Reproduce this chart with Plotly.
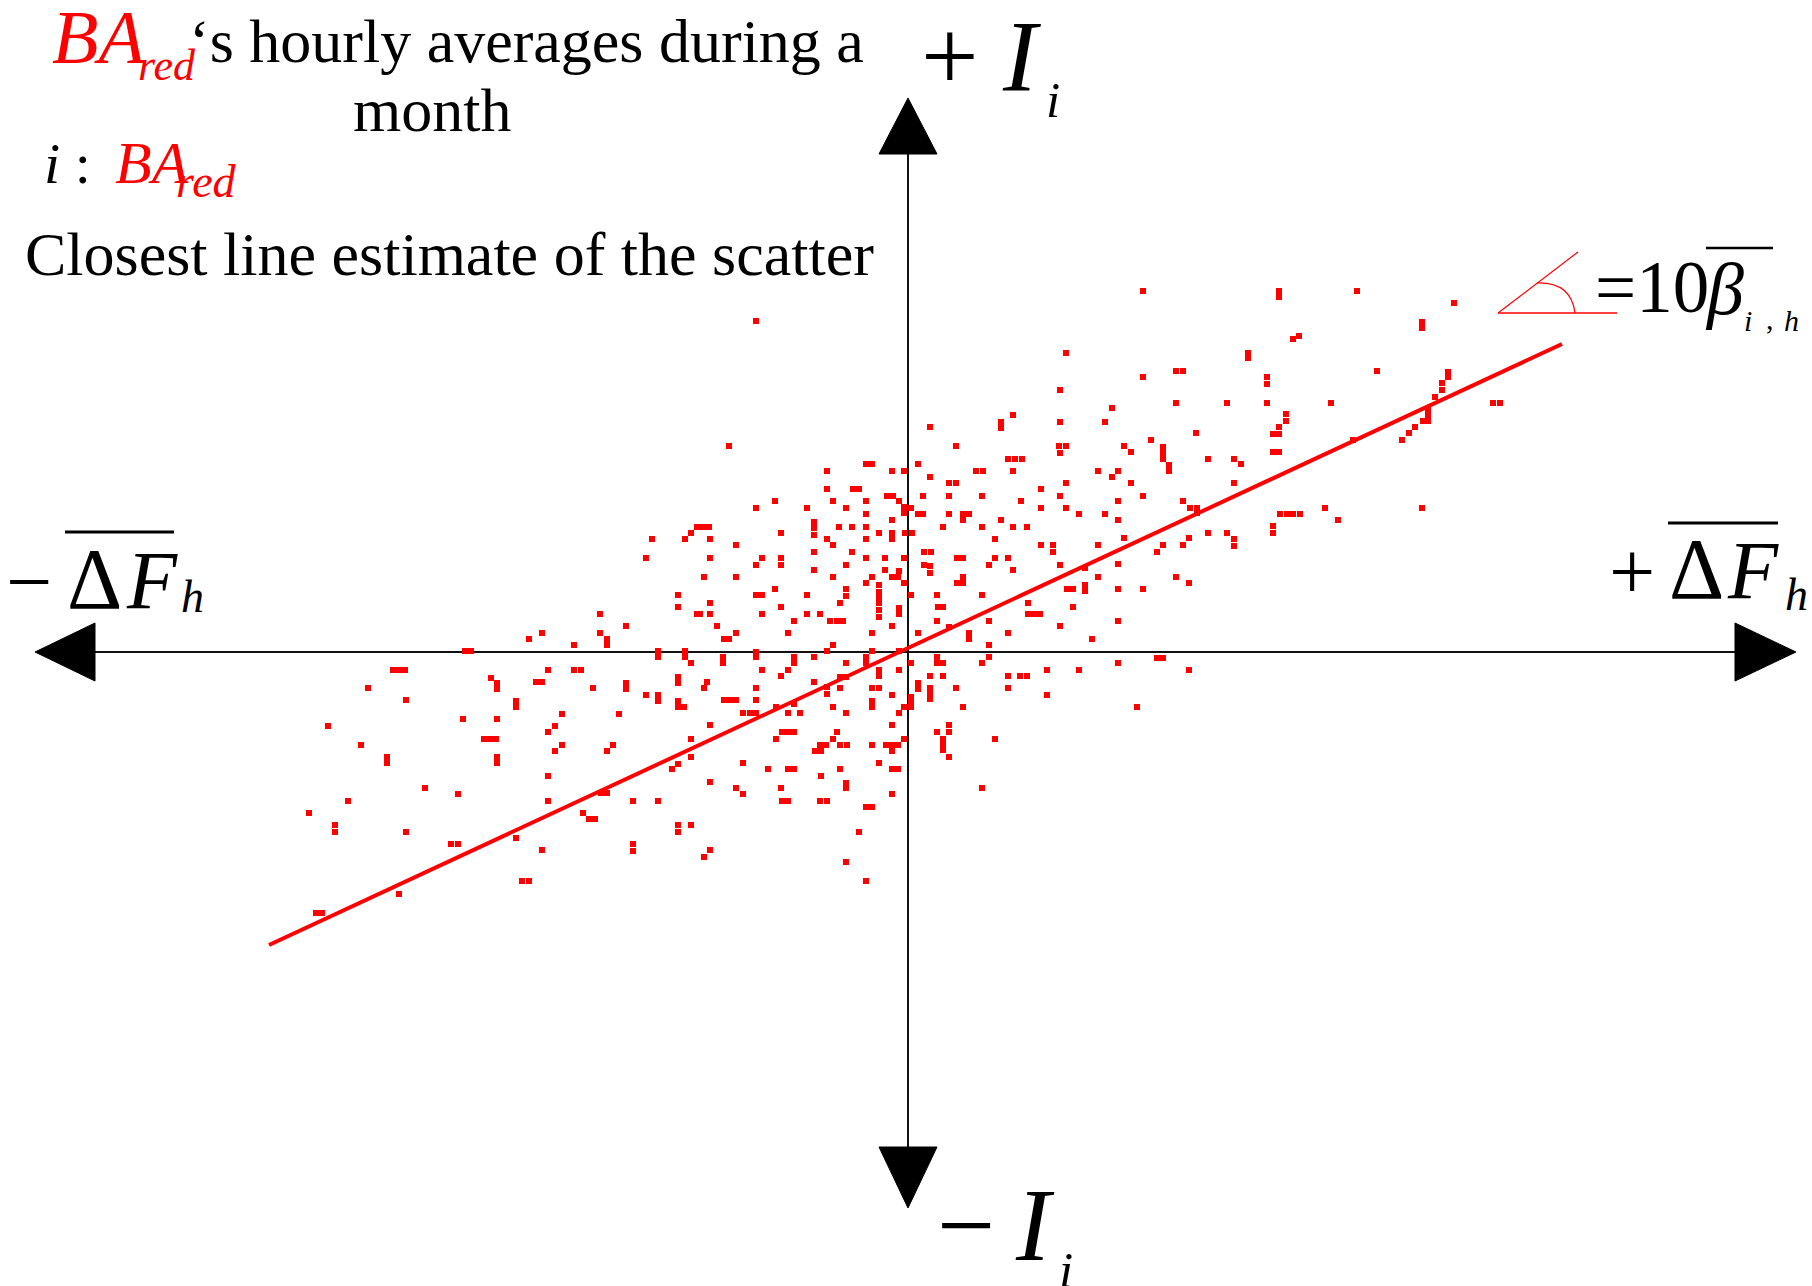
import plotly.graph_objects as go

W, H = 1812, 1286
SERIF = "Liberation Serif"
RED = "#ff0000"

# Hourly averages over a month: deviation of the hourly flow (dF) against
# the indicator I_i for i = BA_red, in the diagram's own units
# (origin at the crossing of the two axes).
dF = [
    -256, -223, -217, -211, -262, -230,
    -152, 158, 152, 105, 93, 93, 22, 152, -179, 48,
    151, 158, 152, 100, 107, 114, -42, -36, 10, -81,
    -16, -4, 68, 75, 105, 190, 22, 41, 48, 158,
    -81, -55, -49, 133, -21, -15, -9, -4, 3, -4,
    15, 41, 74, 152, -133, -75, -42, 113, -152, -101,
    -62, 133, 158, -42, 10, 15, 41, 55, 61, 55,
    171, -16, 93, -205, -199, -94, -94, -94, -69, -56,
    -42, 35, 74, 105, 119, -198, -127, -81, -75, -42,
    -29, -16, -16, -3, 4, 87, -172, 133, 145, 145,
    190, -94, -56, 16, 23, -198, -146, -152, -127, -127,
    -42, -23, -4, 49, 55, 87, 81, 100, -62, 16,
    22, 22, 152, -94, -23, 105, -204, -172, -75, -36,
    -42, -16, -10, -9, -4, 55, 49, 55, 190, 177,
    -133, -29, -29, -29, -62, -62, 159, 165, 177, 177,
    -152, -146, -101, 3, 29, 74,
    235, 371, 371, 449, 546, 514, 514, 385, 391, 340,
    340, 268, 275, 469, 540, 540, 235, 359, 359, 534,
    534, 527, 268, 319, 359, 423, 585, 592, 204, 520,
    520, 520, 515, 197, 378, 378, 507, 501, 494, 288,
    371, 365, 371, 243, 216, 223, 255, 255, 255, 261,
    261, 300, 326, 333, 365, 371, 445, 210, 204, 223,
    326, 235, 210, 275, 282, 289, 289, 197, 210, 372,
    379, 385, 392, 417, 430, 514, 365, 365, 216, 300,
    319, 326, 326, 281, 275, 255, 249, 210, 268, 281,
    210, 235,
    -230, -308, -211, -366, -379, -308, -301, -301, -282, -334,
    -443, -437, -250, -250, -223, -223, -217, -515, -509, -503,
    -360, -334, -327, -417, -411, -411, -372, -366, -230, -230,
    -282, -282, -540, -315, -502, -262, -250, -250, -230, -230,
    -224, -392, -392, -346, -289, -445, -411, -580, -353, -360,
    -424, -418, -412, -217, -547, -346, -353, -295, -301, -521,
    -521, -411, -411, -217, -230, -236, -360, -483, -450, -307,
    -301, -560, -360, -275, -250, -599, -325, -319, -313, -573,
    -573, -502, -230, -230, -217, -392, -457, -450, -366, -275,
    -275, -386, -379, -509, -592, -586,
    -198, -127, -68, -29, -29, -29, -9, -9, 30, 35,
    120, 120, 126, 132, 165, -208, -198, -146, -101, -88,
    -78, -71, -65, -114, 29, 81, -191, -16, 152, -172,
    -184, -179, -120, -36, 10, 41, 61, 61, 100, 184,
    -75, -81, 81, 81, 74, -152, -152, -36, -9, -185,
    -185, -114, -114, -94, -62, -42, -42, 3, 29, 29,
    35, -146, -120, -127, -29, -29, -9, 139, 171, -68,
    -62, 22, 35, 100, 112, 119, -201, -204, -94, -152,
    -81, -81, -68, -36, -29, 10, 10, 22, 22, 22,
    48, 100, 139, -16, -184, -178, -172, -152, 3, 3,
    -4, 3, -36, -36, 55, -165, -158, -152, -132, -114,
    -120, -108, -75, -62, -9, -198, -16, 41, 41, 29,
    -126, -120, -114, -132, -71, -75, -68, -61, -4, 35,
    35, 35, 87, -88, -82, -93, -87, -36, -22, -16,
    -10, -16, 41, -165, -29, -140, -120, -114, -68, -16,
    -10, -198, -87, -62, -62, -172, -165, -127, 74, -16,
    -126, -120, -88, -81, -42, -36, -49, -198, -204, -62,
    -42,
    210, 210, 249, 255, 281, 229,
]
dI = [
    113, 113, 119, 125, 94, 57,
    331, 299, 262, 237, 230, 224, 225, 230, 206, 206,
    206, 206, 199, 193, 193, 193, 188, 188, 188, 181,
    181, 181, 181, 181, 181, 181, 175, 169, 169, 169,
    163, 163, 163, 163, 156, 156, 151, 145, 144, 139,
    156, 156, 156, 156, 151, 151, 151, 151, 144, 144,
    144, 144, 144, 138, 138, 138, 138, 138, 138, 132,
    138, 132, 132, 125, 125, 130, 124, 117, 125, 125,
    125, 125, 125, 125, 125, 113, 119, 113, 107, 113,
    119, 119, 113, 119, 119, 113, 107, 107, 107, 100,
    107, 100, 100, 100, 100, 94, 94, 87, 94, 87,
    94, 94, 94, 94, 94, 94, 87, 94, 87, 87,
    86, 79, 87, 82, 82, 82, 75, 75, 75, 75,
    69, 75, 75, 81, 69, 75, 69, 69, 75, 84,
    63, 67, 60, 54, 63, 56, 63, 63, 67, 61,
    57, 57, 57, 57, 57, 57,
    361, 361, 355, 361, 349, 330, 324, 313, 316, 299,
    294, 281, 281, 281, 280, 275, 275, 275, 268, 269,
    262, 255, 249, 249, 249, 249, 249, 249, 244, 243,
    237, 231, 231, 230, 238, 231, 225, 219, 212, 219,
    225, 218, 218, 212, 206, 200, 205, 199, 193, 187,
    181, 193, 193, 188, 200, 200, 212, 181, 175, 169,
    169, 156, 151, 151, 144, 144, 139, 138, 132, 138,
    138, 138, 138, 144, 132, 144, 126, 119, 114, 119,
    119, 113, 106, 114, 107, 107, 100, 88, 75, 69,
    63, 63,
    45, 38, 38, 19, 13, 19, 13, 7, 26, 7,
    1, 1, 1, -5, 1, -5, -11, -18, -18, -18,
    -18, -18, -18, -26, -31, -37, -30, -30, -25, -31,
    -31, -37, -36, -36, -48, -43, -43, -49, -49, -55,
    -55, -49, -55, -62, -62, -67, -67, -74, -74, -80,
    -87, -87, -87, -87, -93, -93, -99, -93, -99, -105,
    -111, -105, -111, -105, -112, -117, -124, -136, -142, -141,
    -141, -149, -149, -149, -149, -161, -161, -167, -167, -173,
    -180, -180, -173, -180, -173, -186, -192, -192, -198, -192,
    -199, -229, -229, -242, -261, -261,
    49, 45, 49, 49, 42, 35, 44, 38, 45, 45,
    49, 38, 38, 38, 45, 38, 38, 38, 38, 38,
    31, 31, 31, 31, 31, 31, 26, 26, 26, 19,
    13, 13, 19, 19, 19, 25, 19, 13, 19, 13,
    7, 1, 7, -5, -11, 0, -5, 1, 1, -5,
    -11, -5, -11, -5, -11, -5, -11, -11, -5, -11,
    -11, -18, -18, -24, -18, -24, -18, -18, -18, -25,
    -25, -24, -24, -24, -24, -24, -30, -36, -30, -36,
    -35, -42, -36, -36, -36, -31, -37, -36, -41, -47,
    -36, -36, -43, -43, -48, -48, -48, -48, -45, -51,
    -55, -55, -49, -55, -55, -61, -61, -61, -55, -52,
    -61, -61, -55, -61, -61, -73, -73, -73, -80, -80,
    -80, -80, -80, -87, -80, -87, -93, -93, -87, -87,
    -93, -98, -87, -93, -93, -99, -99, -93, -93, -93,
    -93, -99, -105, -111, -111, -117, -117, -117, -117, -117,
    -117, -130, -124, -131, -136, -136, -142, -136, -136, -142,
    -149, -149, -149, -149, -155, -155, -180, -198, -205, -210,
    -229,
    31, -11, -6, -6, -18, -55,
]

# closest straight-line estimate of the scatter (end points)
fit_dF = [-639, 654]
fit_dI = [-293, 308]

# visible window and axis geometry, same units as the data
x_range = [-908, 904]
y_range = [-634, 652]
h_axis_ends = [-813, 827]
h_axis_tips = [-873, 888]
v_axis_ends = [-495, 498]
v_axis_tips = [-556, 554]
head_half = 29

fig = go.Figure()
fig.add_trace(go.Scatter(
    x=dF, y=dI, mode="markers",
    marker=dict(symbol="square", size=6, color=RED, line=dict(width=0)),
    hoverinfo="skip", showlegend=False,
))
fig.add_trace(go.Scatter(
    x=fit_dF, y=fit_dI, mode="lines",
    line=dict(color=RED, width=4),
    hoverinfo="skip", showlegend=False,
))

shapes = []
axis_line = dict(color="#111111", width=2)
shapes.append(dict(type="line", xref="x", yref="y", layer="below",
                   x0=h_axis_ends[0], x1=h_axis_ends[1], y0=0, y1=0, line=axis_line))
shapes.append(dict(type="line", xref="x", yref="y", layer="below",
                   x0=0, x1=0, y0=v_axis_ends[0], y1=v_axis_ends[1], line=axis_line))


def head(path):
    return dict(type="path", xref="x", yref="y", path=path,
                fillcolor="black", line=dict(color="black", width=1))


shapes.append(head(f"M{h_axis_tips[0]},0 L{h_axis_ends[0]},{head_half} L{h_axis_ends[0]},{-head_half} Z"))
shapes.append(head(f"M{h_axis_tips[1]},0 L{h_axis_ends[1]},{head_half} L{h_axis_ends[1]},{-head_half} Z"))
shapes.append(head(f"M0,{v_axis_tips[1]} L{-head_half},{v_axis_ends[1]} L{head_half},{v_axis_ends[1]} Z"))
shapes.append(head(f"M0,{v_axis_tips[0]} L{-head_half},{v_axis_ends[0]} L{head_half},{v_axis_ends[0]} Z"))


def page_line(x0, y0, x1, y1, color="black", width=3):
    # straight segment given in page pixels
    return dict(type="line", xref="paper", yref="paper",
                x0=x0 / W, x1=x1 / W, y0=1 - y0 / H, y1=1 - y1 / H,
                line=dict(color=color, width=width))


# bars over the averaged quantities
shapes.append(page_line(65, 532, 174, 532))
shapes.append(page_line(1668, 523, 1778, 523))
shapes.append(page_line(1706, 248, 1773, 248, width=2.5))

# angle mark of the slope
shapes.append(page_line(1498, 313, 1617, 313, color=RED, width=1.5))
shapes.append(page_line(1498, 313, 1578, 252, color=RED, width=1.2))
shapes.append(dict(type="path", xref="paper", yref="paper",
                   path=(f"M{1537 / W},{1 - 283 / H} "
                         f"Q{1571 / W},{1 - 282 / H} {1575 / W},{1 - 313 / H}"),
                   line=dict(color=RED, width=1.2)))

annotations = []


def text(s, x, base, size, color="black", anchor="left", italic=False):
    # place a run of text by its left edge (or centre) and its baseline, in page pixels
    cy = base - 0.3375 * size
    if italic:
        s = f"<i>{s}</i>"
    annotations.append(dict(
        text=s, x=x / W, y=1 - cy / H, xref="paper", yref="paper",
        xanchor=anchor, yanchor="middle", showarrow=False,
        font=dict(family=SERIF, size=size, color=color),
    ))


# heading block
text("BA", 50, 63, 76, RED, italic=True)
text("red", 136, 80, 44, RED, italic=True)
text("\u2018s hourly averages during a", 187, 62, 62)
text("month", 432, 131, 62, anchor="center")
text("<i>i</i> :", 42, 183, 58)
text("BA", 113, 183, 60, RED, italic=True)
text("red", 174, 197, 46, RED, italic=True)
text("Closest line estimate of the scatter", 23, 275, 62)

# vertical axis labels
text("+", 950, 90, 102, anchor="center")
text("I", 1000, 91, 102, italic=True)
text("i", 1044, 117, 51, italic=True)
text("\u2212", 966, 1260, 103, anchor="center")
text("I", 1013, 1260, 103, italic=True)
text("i", 1057, 1287, 51, italic=True)

# horizontal axis labels
text("\u2212", 29, 609, 82, anchor="center")
text("\u0394", 65, 608, 86)
text("F", 124, 608, 82, italic=True)
text("h", 179, 612, 46, italic=True)
text("+", 1632, 599, 82, anchor="center")
text("\u0394", 1667, 598, 86)
text("F", 1725, 598, 82, italic=True)
text("h", 1783, 610, 46, italic=True)

# slope note
text("=10", 1593, 312, 73)
text("\u03b2", 1703, 314, 74, italic=True)
text("i", 1742, 331, 30, italic=True)
text(",", 1764, 329, 30)
text("h", 1782, 331, 30, italic=True)

fig.update_layout(
    width=W, height=H,
    margin=dict(l=0, r=0, t=0, b=0),
    paper_bgcolor="white", plot_bgcolor="white",
    xaxis=dict(range=x_range, visible=False, fixedrange=True),
    yaxis=dict(range=y_range, visible=False, fixedrange=True),
    shapes=shapes, annotations=annotations,
    showlegend=False,
)

fig.write_html("out.html")
